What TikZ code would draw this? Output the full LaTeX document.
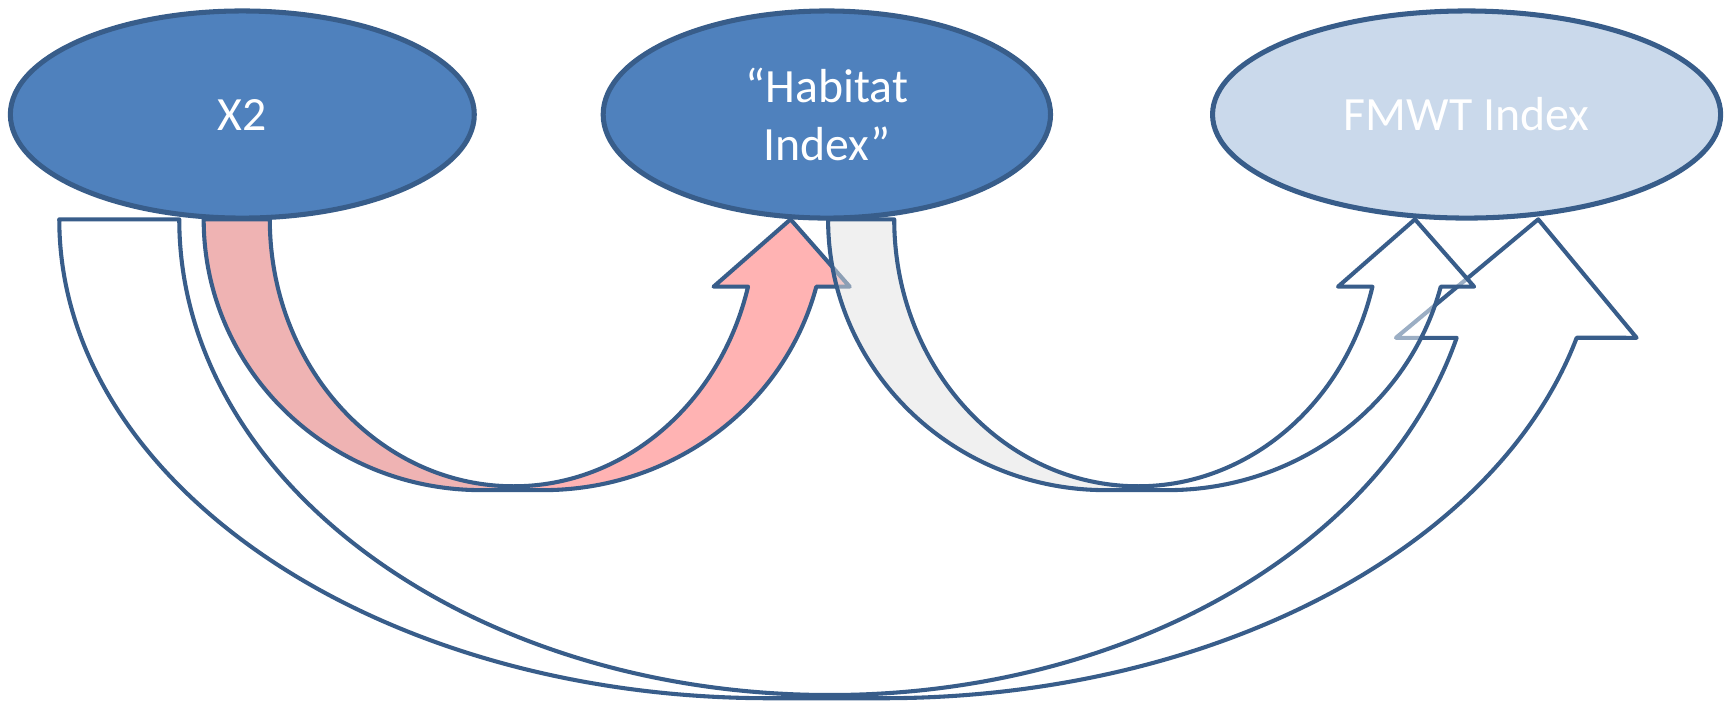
\documentclass[tikz,border=0pt]{standalone}
\usepackage{fontspec}
\setmainfont{Carlito}
\usetikzlibrary{shapes.geometric}
\definecolor{blueFill}{HTML}{4F81BD}
\definecolor{blueLine}{HTML}{385D8A}
\definecolor{lightFill}{HTML}{CAD9EB}
\definecolor{pinkFront}{HTML}{FFB3B3}
\definecolor{pinkBack}{HTML}{EFB3B3}
\definecolor{greyBack}{HTML}{E1E1E1}
\def\smallTail{(184.5,438.3) arc[start angle=180,end angle=270,x radius=251.5,y radius=245.3] -- (465.4,193) -- (465.4,196.5) arc[start angle=270,end angle=180,x radius=221,y radius=241.8] -- cycle}
\def\smallShaft{(465.4,193) -- (492,193) arc[start angle=270,end angle=345.6,x radius=255.5,y radius=245.3] -- (769.7,377.3) -- (716.1,438.3) -- (646.4,377.3) -- (677.6,377.3) arc[start angle=345.39,end angle=270,x radius=219.3,y radius=241.8] -- cycle}
\def\smallOutline{(184.5,438.3) arc[start angle=180,end angle=270,x radius=251.5,y radius=245.3] -- (492,193) arc[start angle=270,end angle=345.6,x radius=255.5,y radius=245.3] -- (769.7,377.3) -- (716.1,438.3) -- (646.4,377.3) -- (677.6,377.3) arc[start angle=345.39,end angle=270,x radius=219.3,y radius=241.8] arc[start angle=270,end angle=180,x radius=221,y radius=241.8] -- cycle}
\begin{document}
\begin{tikzpicture}[x=0.01cm,y=0.01cm,
  oval/.style={ellipse, draw=blueLine, line width=1.3pt, inner sep=0pt, minimum height=1.875cm,
    text=white, font=\fontsize{12.3}{14.8}\selectfont, align=center},
  arrowline/.style={draw=blueLine, line width=1.05pt, line join=round}]
\useasboundingbox (0,0) rectangle (1568,637);

% big white arrow X2 -> FMWT Index
\path[arrowline, fill=white] (53.7,438.3) arc[start angle=180,end angle=270,x radius=643.3,y radius=433.8]
  -- (800,4.5) arc[start angle=270,end angle=345.68,x radius=648.4,y radius=433.8]
  -- (1482.5,331) -- (1393.4,438.3) -- (1264.5,331) -- (1319.5,331)
  arc[start angle=345.58,end angle=270,x radius=586.2,y radius=430.9]
  arc[start angle=270,end angle=180,x radius=589.4,y radius=430.9] -- cycle;

% pink arrow X2 -> Habitat Index
\fill[pinkFront] \smallShaft;
\fill[pinkBack] \smallTail;
\draw[arrowline] \smallOutline;

% grey arrow Habitat Index -> FMWT Index
\begin{scope}[xshift=5.653cm]
\fill[white, fill opacity=0.5] \smallShaft;
\fill[greyBack, fill opacity=0.5] \smallTail;
\draw[arrowline] \smallOutline;
\end{scope}

\node[oval, fill=blueFill, minimum width=4.2cm] (x2) at (219.5,533.25) {X2};
\node[oval, fill=blueFill, minimum width=4.05cm] (hab) at (749,533.25) {“Habitat\\Index”};
\node[oval, fill=lightFill, minimum width=4.6cm] (fmwt) at (1328.5,533.25) {FMWT Index};
\end{tikzpicture}
\end{document}
